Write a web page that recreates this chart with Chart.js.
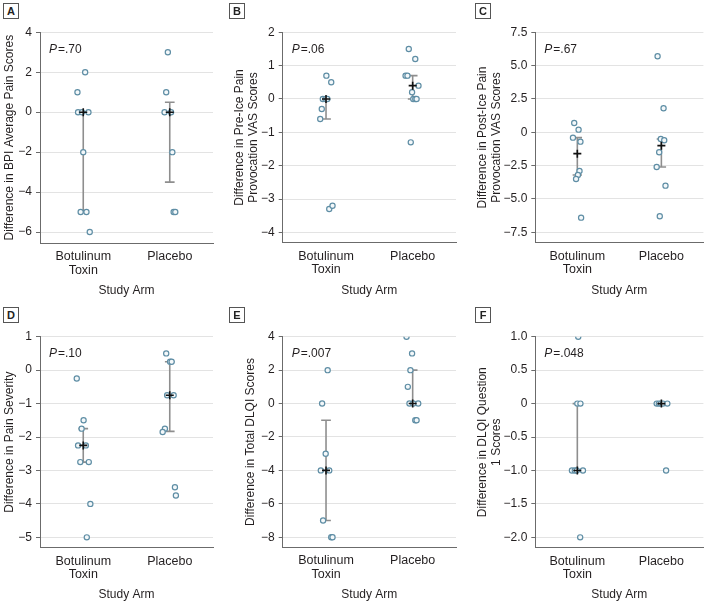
<!DOCTYPE html>
<html>
<head>
<meta charset="utf-8">
<script src="https://cdn.jsdelivr.net/npm/chart.js@4.4.1/dist/chart.umd.min.js"></script>
<style>
  body { margin: 0; background: #fff; }
  #wrap { position: relative; width: 709px; height: 602px; overflow: hidden; background: #fff; }
  #wrap canvas { position: absolute; }
  .tag {
    position: absolute; z-index: 5; width: 14px; height: 14px;
    border: 1px solid #555; background: #fff; color: #222;
    font: bold 11px 'Liberation Sans', Arial, sans-serif;
    line-height: 14px; text-align: center;
  }
</style>
</head>
<body>
<div id="wrap">
  <div class="tag" style="left:3px;top:3px">A</div>
  <div class="tag" style="left:229px;top:3px">B</div>
  <div class="tag" style="left:475px;top:3px">C</div>
  <div class="tag" style="left:3px;top:307px">D</div>
  <div class="tag" style="left:229px;top:307px">E</div>
  <div class="tag" style="left:475px;top:307px">F</div>
</div>
<script>
const arms = ['Botulinum Toxin', 'Placebo']

// A - BPI average pain
const botoxA = [2, 1, 0, 0, 0, -2, -5, -5, -6]
const botoxJitA = [0.022, -0.067, -0.06, -0.015, 0.06, 0, -0.03, 0.037, 0.075]
const placeboA = [3, 1, 0, 0, -2, -5, -5]
const placeboJitA = [-0.022, -0.041, -0.06, 0.015, 0.03, 0.045, 0.064]
const midA = [0, 0]
const upperA = [0, 0.5]
const lowerA = [-5, -3.5]
const ticksA = [4, 2, 0, -2, -4, -6]

// B - pre-ice pain provocation VAS
const botoxB = [0.7, 0.5, 0, 0, 0, -0.3, -0.6, -3.3, -3.2]
const botoxJitB = [0.004, 0.06, -0.037, -0.007, 0.015, -0.049, -0.067, 0.037, 0.075]
const placeboB = [1.5, 1.2, 0.7, 0.7, 0.4, 0.2, 0, 0, 0, -1.3]
const placeboJitB = [-0.045, 0.03, -0.082, -0.06, 0.067, -0.007, 0.007, 0.03, 0.045, -0.022]
const midB = [0, 0.4]
const upperB = [0, 0.7]
const lowerB = [-0.6, 0]
const ticksB = [2, 1, 0, -1, -2, -3, -4]

// C - post-ice pain provocation VAS
const botoxC = [0.7, 0.2, -0.4, -0.7, -2.9, -3.2, -3.5, -6.4]
const botoxJitC = [-0.037, 0.015, -0.052, 0.037, 0.026, 0.007, -0.015, 0.045]
const placeboC = [5.7, 1.8, -0.5, -0.6, -1.5, -2.6, -4.0, -6.3]
const placeboJitC = [-0.045, 0.026, -0.007, 0.034, -0.026, -0.056, 0.049, -0.019]
const midC = [-1.6, -1.0]
const upperC = [-0.4, -0.5]
const lowerC = [-3.2, -2.6]
const ticksC = [7.5, 5, 2.5, 0, -2.5, -5, -7.5]

// D - pain severity
const botoxD = [-0.25, -1.5, -1.75, -2.25, -2.25, -2.75, -2.75, -4, -5]
const botoxJitD = [-0.075, 0.004, -0.019, -0.06, 0.03, -0.034, 0.064, 0.082, 0.041]
const placeboD = [0.5, 0.25, 0.25, -0.75, -0.75, -1.75, -1.85, -3.5, -3.75]
const placeboJitD = [-0.041, 0.004, 0.022, -0.03, 0.045, -0.056, -0.082, 0.06, 0.071]
const midD = [-2.25, -0.75]
const upperD = [-1.75, 0.25]
const lowerD = [-2.75, -1.83]
const ticksD = [1, 0, -1, -2, -3, -4, -5]

// E - total DLQI
const botoxE = [2, 0, -3, -4, -4, -7, -8, -8]
const botoxJitE = [0.019, -0.045, -0.004, -0.06, 0.037, -0.034, 0.06, 0.075]
const placeboE = [4, 3, 2, 1, 0, 0, 0, -1, -1]
const placeboJitE = [-0.071, -0.007, -0.026, -0.056, -0.037, 0.007, 0.064, 0.03, 0.045]
const midE = [-4, 0]
const upperE = [-1, 2]
const lowerE = [-7, 0]
const ticksE = [4, 2, 0, -2, -4, -6, -8]

// F - DLQI question 1
const botoxF = [1, 0, 0, -1, -1, -1, -1, -2]
const botoxJitF = [0.011, 0, 0.037, -0.064, -0.03, -0.007, 0.067, 0.034]
const placeboF = [0, 0, 0, 0, 0, -1]
const placeboJitF = [-0.056, -0.03, -0.007, 0.019, 0.071, 0.056]
const midF = [-1, 0]
const upperF = [0, 0]
const lowerF = [-1, 0]
const ticksF = [1, 0.5, 0, -0.5, -1, -1.5, -2]

const pValues = ['.70', '.06', '.67', '.10', '.007', '.048']

const FONT = "'Liberation Sans', Arial, sans-serif"
const INK = '#231f20'
const CAP = 0.056

Chart.defaults.font.family = FONT
Chart.defaults.color = INK

const panels = [
  { left: 0, top: 0, w: 236, h: 298, axisW: 40, padTop: 32.3, padRight: 23, axisH: 55, min: -6.55, max: 4, dec: 0,
    title: 'Difference in BPI Average Pain Scores', ticks: ticksA,
    botox: botoxA, botoxJit: botoxJitA, placebo: placeboA, placeboJit: placeboJitA, mid: midA, upper: upperA, lower: lowerA },
  { left: 230, top: 0, w: 242, h: 298, axisW: 52.7, padTop: 32.3, padRight: 16, axisH: 55.3, min: -4.31, max: 2, dec: 0,
    title: ['Difference in Pre-Ice Pain', 'Provocation VAS Scores'], ticks: ticksB,
    botox: botoxB, botoxJit: botoxJitB, placebo: placeboB, placeboJit: placeboJitB, mid: midB, upper: upperB, lower: lowerB },
  { left: 473, top: 0, w: 236, h: 298, axisW: 62.3, padTop: 32.3, padRight: 1, axisH: 55.3, min: -8.28, max: 7.5, dec: 1,
    title: ['Difference in Post-Ice Pain', 'Provocation VAS Scores'], ticks: ticksC,
    botox: botoxC, botoxJit: botoxJitC, placebo: placeboC, placeboJit: placeboJitC, mid: midC, upper: upperC, lower: lowerC },
  { left: 0, top: 300, w: 236, h: 302, axisW: 40, padTop: 36.7, padRight: 23, axisH: 54.3, min: -5.31, max: 1, dec: 0,
    title: 'Difference in Pain Severity', ticks: ticksD,
    botox: botoxD, botoxJit: botoxJitD, placebo: placeboD, placeboJit: placeboJitD, mid: midD, upper: upperD, lower: lowerD },
  { left: 241, top: 300, w: 231, h: 302, axisW: 41.7, padTop: 36.7, padRight: 16, axisH: 54.7, min: -8.6, max: 4, dec: 0,
    title: 'Difference in Total DLQI Scores', ticks: ticksE,
    botox: botoxE, botoxJit: botoxJitE, placebo: placeboE, placeboJit: placeboJitE, mid: midE, upper: upperE, lower: lowerE },
  { left: 473, top: 300, w: 236, h: 302, axisW: 62.3, padTop: 36.7, padRight: 1, axisH: 54.3, min: -2.155, max: 1, dec: 1,
    title: ['Difference in DLQI Question', '1 Scores'], ticks: ticksF,
    botox: botoxF, botoxJit: botoxJitF, placebo: placeboF, placeboJit: placeboJitF, mid: midF, upper: upperF, lower: lowerF }
]

function fmt (v, dec) {
  if (v === 0) return '0'
  return (v < 0 ? '\u2212' : '') + Math.abs(v).toFixed(dec)
}

function barPoints (p) {
  const pts = []
  for (let i = 0; i < 2; i++) {
    const hi = p.upper[i]
    const lo = p.lower[i]
    pts.push({ x: i - CAP, y: hi }, { x: i + CAP, y: hi }, { x: i, y: null })
    pts.push({ x: i, y: hi }, { x: i, y: lo }, { x: i, y: null })
    pts.push({ x: i - CAP, y: lo }, { x: i + CAP, y: lo }, { x: i, y: null })
  }
  return pts
}

const pvalPlugin = {
  id: 'pval',
  afterDraw: (chart, args, opts) => {
    const { ctx, chartArea } = chart
    const x = chartArea.left + 9
    const y = chartArea.top + 17
    ctx.save()
    ctx.fillStyle = INK
    ctx.textBaseline = 'middle'
    ctx.font = 'italic 12px ' + FONT
    ctx.fillText('P', x, y)
    const w = ctx.measureText('P').width
    ctx.font = '12px ' + FONT
    ctx.fillText('=' + opts.text, x + w + 1, y)
    ctx.restore()
  }
}

const wrap = document.getElementById('wrap')

panels.forEach((p, k) => {
  const canvas = document.createElement('canvas')
  canvas.width = p.w
  canvas.height = p.h
  canvas.style.left = p.left + 'px'
  canvas.style.top = p.top + 'px'
  wrap.appendChild(canvas)

  const dots = []
  p.botox.forEach((v, i) => dots.push({ x: 0 + p.botoxJit[i], y: v }))
  p.placebo.forEach((v, i) => dots.push({ x: 1 + p.placeboJit[i], y: v }))

  new Chart(canvas, {
    type: 'scatter',
    data: {
      datasets: [
        {
          data: p.mid.map((v, i) => ({ x: i, y: v })),
          pointStyle: 'cross',
          pointRadius: 4,
          borderColor: '#111',
          borderWidth: 1.6
        },
        {
          data: dots,
          pointStyle: 'circle',
          pointRadius: 2.6,
          borderWidth: 1.2,
          borderColor: '#5f8ea5',
          backgroundColor: '#f4f8fa'
        },
        {
          type: 'line',
          data: barPoints(p),
          showLine: true,
          spanGaps: false,
          pointRadius: 0,
          borderColor: '#8e8e8e',
          borderWidth: 1.6
        }
      ]
    },
    options: {
      responsive: false,
      animation: false,
      events: [],
      layout: { padding: { top: p.padTop, right: p.padRight, left: 0, bottom: 0 } },
      plugins: {
        legend: { display: false },
        tooltip: { enabled: false },
        pval: { text: pValues[k] }
      },
      scales: {
        x: {
          type: 'linear',
          min: -0.5,
          max: 1.5,
          afterFit: s => { s.height = p.axisH },
          afterBuildTicks: s => { s.ticks = arms.map((a, i) => ({ value: i })) },
          ticks: {
            autoSkip: false,
            maxRotation: 0,
            padding: 7,
            color: INK,
            font: { size: 12.5, lineHeight: 1.07 },
            callback: (v, i) => arms[i].split(' ')
          },
          grid: { display: false, drawTicks: false },
          border: { display: true, color: '#6b6b6b', width: 1 },
          title: { display: true, text: 'Study Arm', color: INK, font: { size: 12 }, padding: 0 }
        },
        y: {
          min: p.min,
          max: p.max,
          afterFit: s => { s.width = p.axisW },
          afterBuildTicks: s => { s.ticks = p.ticks.map(v => ({ value: v })) },
          ticks: {
            padding: 4,
            color: INK,
            font: { size: 12 },
            callback: v => fmt(v, p.dec)
          },
          grid: { color: '#e3e3e3', tickColor: '#6b6b6b', tickLength: 4, lineWidth: 1 },
          border: { display: true, color: '#6b6b6b', width: 1 },
          title: { display: true, text: p.title, color: INK, font: { size: 12 }, padding: { top: 2, bottom: 0 } }
        }
      }
    },
    plugins: [pvalPlugin]
  })
})
</script>
</body>
</html>
